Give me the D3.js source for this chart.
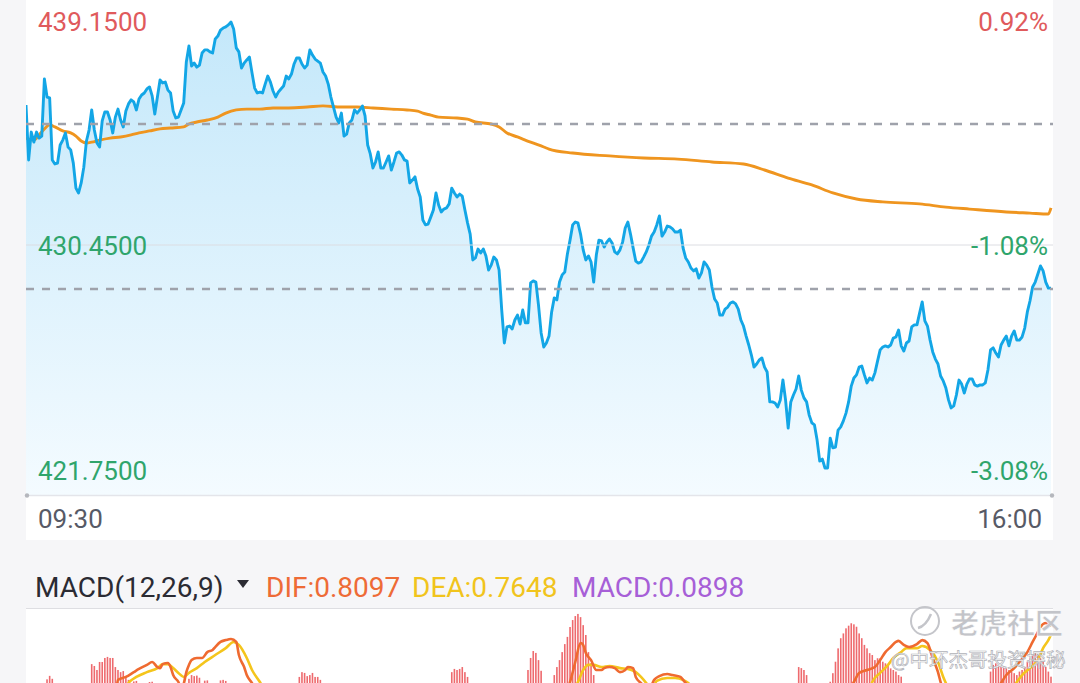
<!DOCTYPE html>
<html>
<head>
<meta charset="utf-8">
<script src="https://cdn.jsdelivr.net/npm/d3@7"></script>
<style>
  body { margin: 0; background: #f6f6f8; }
  svg { display: block; font-family: Roboto, "Noto Sans", sans-serif; }
</style>
</head>
<body>
<div id="chart"></div>
<script>
//Price per minute from 09:30 (index = minutes after open)
var priceValues = [
  435.32, 433.41, 434.38, 434.03, 434.38, 434.17, 434.24, 436.23, 435.60, 435.57,
  433.41, 433.27, 433.30, 433.93, 434.10, 434.35, 433.86, 433.76, 433.30, 432.43,
  432.26, 432.61, 433.16, 434.07, 434.45, 435.15, 434.45, 434.00, 433.86, 434.77,
  435.08, 435.08, 434.80, 434.35, 434.90, 435.18, 434.80, 434.56, 435.11, 435.36,
  435.50, 435.43, 435.15, 435.53, 435.67, 435.74, 435.88, 435.95, 435.64, 435.01,
  435.60, 436.19, 436.09, 436.12, 435.84, 435.74, 435.11, 434.87, 434.90, 435.15,
  435.39, 436.82, 437.38, 436.68, 436.78, 436.64, 436.71, 437.13, 437.24, 437.24,
  437.17, 437.13, 437.62, 437.72, 437.93, 438.00, 438.04, 438.11, 438.21, 437.97,
  437.31, 437.17, 436.61, 436.78, 436.89, 436.99, 436.44, 435.91, 435.74, 435.77,
  435.74, 436.05, 436.33, 436.12, 435.81, 435.60, 435.77, 435.88, 435.98, 436.33,
  436.23, 436.40, 436.75, 436.96, 436.96, 436.75, 436.61, 436.71, 437.24, 437.06,
  436.92, 436.85, 436.78, 436.47, 436.33, 436.05, 435.60, 435.25, 434.90, 434.70,
  435.04, 434.24, 434.31, 434.70, 434.80, 435.15, 435.04, 435.15, 435.29, 434.94,
  433.93, 433.62, 433.13, 433.34, 433.69, 433.13, 433.13, 433.34, 433.55, 433.06,
  433.34, 433.65, 433.69, 433.58, 433.41, 433.37, 432.61, 432.71, 432.82, 432.40,
  432.12, 431.32, 431.15, 431.18, 431.42, 431.67, 432.26, 431.84, 431.60, 431.70,
  431.74, 431.88, 432.43, 432.26, 432.12, 432.22, 432.15, 431.67, 431.22, 430.83,
  429.93, 430.00, 430.31, 430.17, 430.31, 430.07, 429.58, 429.75, 430.03, 429.93,
  429.58, 428.19, 427.04, 427.60, 427.63, 427.53, 427.84, 428.01, 427.70, 428.19,
  427.74, 427.74, 429.13, 429.20, 429.16, 428.36, 427.39, 426.90, 427.04, 427.28,
  428.12, 428.61, 428.54, 429.16, 429.41, 429.51, 430.14, 430.62, 431.15, 431.25,
  431.22, 430.83, 430.28, 429.93, 430.07, 429.86, 429.16, 430.10, 430.62, 430.59,
  430.38, 430.55, 430.66, 430.52, 430.21, 430.14, 430.28, 430.55, 431.04, 431.25,
  430.83, 430.35, 429.89, 429.82, 429.86, 430.03, 430.21, 430.45, 430.76, 430.90,
  431.15, 431.46, 430.76, 430.90, 431.11, 431.08, 431.01, 430.90, 430.90, 430.97,
  430.35, 430.00, 429.86, 429.65, 429.55, 429.62, 429.30, 429.48, 429.86, 429.75,
  429.58, 428.99, 428.57, 428.43, 428.01, 428.01, 428.22, 428.29, 428.43, 428.47,
  428.40, 428.22, 427.84, 427.63, 427.28, 426.97, 426.62, 426.20, 426.31, 426.45,
  426.52, 426.20, 426.03, 424.99, 424.99, 424.95, 424.81, 425.06, 425.75, 425.06,
  424.08, 424.99, 425.23, 425.44, 425.89, 425.40, 425.13, 424.99, 424.53, 424.26,
  424.19, 423.66, 422.93, 423.00, 422.69, 422.69, 423.73, 423.39, 423.42, 424.01,
  424.12, 424.33, 424.60, 424.99, 425.54, 425.82, 425.93, 426.20, 426.24, 425.93,
  425.65, 425.82, 425.75, 426.00, 426.41, 426.80, 426.90, 426.94, 426.90, 426.97,
  427.21, 427.25, 427.49, 426.94, 426.76, 427.04, 427.11, 427.60, 427.67, 427.67,
  428.08, 428.47, 427.81, 427.63, 427.14, 426.73, 426.48, 426.31, 425.89, 425.72,
  425.47, 425.06, 424.78, 424.85, 425.23, 425.75, 425.61, 425.30, 425.61, 425.79,
  425.79, 425.58, 425.54, 425.58, 425.58, 425.65, 426.10, 426.80, 426.87, 426.69,
  426.55, 426.97, 427.14, 427.28, 426.94, 427.28, 427.46, 427.14, 427.14, 427.25,
  427.56, 428.12, 428.50, 428.99, 429.16, 429.44, 429.72, 429.55, 429.16, 428.95,
  428.95
];

//Average price line (minute, price)
var avgMinutes = [0, 3, 5, 7, 9, 11, 14, 17, 19, 21, 23, 25, 28, 32, 36, 40, 43, 47, 51, 55,
  60, 62, 65, 69, 73, 76, 80, 84, 89, 94, 100, 107, 113, 120, 126, 132, 139, 145, 149, 151,
  154, 157, 164, 168, 171, 177, 180, 183, 187, 192, 197, 199, 208, 222, 235, 248, 261, 273, 281, 290,
  299, 307, 316, 326, 340, 350, 359, 373, 382, 389, 390];
var avgValues = [434.17, 434.10, 434.28, 434.49, 434.63, 434.56, 434.42, 434.35, 434.24, 434.07,
  434.00, 434.03, 434.10, 434.17, 434.21, 434.28, 434.35, 434.42, 434.49, 434.52,
  434.56, 434.66, 434.73, 434.80, 434.90, 435.04, 435.15, 435.18, 435.18, 435.22,
  435.22, 435.25, 435.29, 435.25, 435.25, 435.22, 435.18, 435.15, 435.11, 435.04,
  434.97, 434.90, 434.87, 434.83, 434.73, 434.66, 434.56, 434.35, 434.21, 434.03,
  433.86, 433.79, 433.65, 433.55, 433.48, 433.44, 433.34, 433.27, 433.06, 432.78,
  432.54, 432.26, 432.05, 431.95, 431.88, 431.77, 431.70, 431.60, 431.56, 431.53, 431.74];

//Dashed reference levels and axis labels
var refLevels = [434.66, 428.92];
var priceTicks = [439.15, 430.45, 421.75];
var priceTickLabels = ["439.1500", "430.4500", "421.7500"];
var pctTickLabels = ["0.92%", "-1.08%", "-3.08%"];
var timeTicks = [0, 390];
var timeTickLabels = ["09:30", "16:00"];

//MACD histogram bars (minute, value)
var macdBarMinutes = [8, 9, 10,
  25, 26, 27, 28, 29, 30, 31, 32, 33, 34, 35, 36, 37, 38, 39, 41, 42, 47, 48,
  62, 63, 64, 65, 66, 68, 69, 74, 75, 76,
  104, 105, 106, 107, 108, 109, 110, 111, 112,
  162, 163, 164, 165, 166, 167, 168,
  191, 192, 193, 194, 195, 196,
  201, 202, 203, 204, 205, 206, 207, 208, 209, 210, 211, 212, 213, 214, 215, 216,
  294, 295, 296, 297,
  306, 307, 308, 309, 310, 311, 312, 313, 314, 315, 316, 317, 318, 319,
  320, 321, 322, 323, 324, 325, 326, 327, 328, 329, 330, 331, 332, 333,
  367, 368, 369, 370, 371, 372, 373, 374, 375, 376, 377, 378,
  379, 380, 381, 382, 383, 384, 385, 386, 387, 388, 389, 390];
var macdBarValues = [0.598, 0.611, 0.600,
  0.655, 0.648, 0.633, 0.663, 0.663, 0.678, 0.682, 0.678, 0.678, 0.644, 0.633, 0.625, 0.629, 0.607, 0.596, 0.590, 0.592, 0.588, 0.589,
  0.600, 0.614, 0.610, 0.612, 0.604, 0.593, 0.594, 0.594, 0.596, 0.592,
  0.607, 0.625, 0.622, 0.610, 0.614, 0.622, 0.607, 0.607, 0.596,
  0.625, 0.637, 0.633, 0.637, 0.644, 0.625, 0.607,
  0.633, 0.678, 0.704, 0.697, 0.670, 0.630,
  0.614, 0.644, 0.670, 0.700, 0.730, 0.757, 0.794, 0.820, 0.835, 0.843, 0.831, 0.801, 0.764, 0.700, 0.659, 0.614,
  0.644, 0.640, 0.633, 0.614,
  0.589, 0.621, 0.664, 0.714, 0.752, 0.770, 0.789, 0.799, 0.808, 0.804, 0.795, 0.770, 0.752, 0.727,
  0.714, 0.696, 0.689, 0.670, 0.677, 0.677, 0.664, 0.658, 0.652, 0.639, 0.633, 0.627, 0.614, 0.608,
  0.627, 0.652, 0.658, 0.652, 0.645, 0.645, 0.639, 0.633, 0.627, 0.621, 0.614, 0.627,
  0.633, 0.645, 0.664, 0.677, 0.689, 0.696, 0.689, 0.677, 0.664, 0.645, 0.627, 0.608];

//DIF line (minute, value)
var difMinutes = [34, 35, 38, 41, 43, 46, 48, 50, 51, 52, 54, 55, 56, 58, 59, 60, 61, 62, 63, 65,
  67, 69, 71, 72, 74, 76, 78, 80, 81, 83, 84, 86, 90, 100, 150, 200, 205,
  207, 209, 211, 212, 213, 215, 217, 219, 220, 222, 224, 226, 228, 229, 231, 232, 234, 237,
  239, 241, 244, 246, 249, 250, 251, 255, 300, 312,
  315, 317, 320, 323, 325, 327, 329, 331, 332, 334, 336, 339, 341, 343, 345, 347, 348, 352, 365,
  371, 373, 376, 378, 381, 383, 385, 386, 388, 390];
var difValues = [0.521, 0.596, 0.607, 0.625, 0.637, 0.652, 0.663, 0.644, 0.640, 0.655, 0.659, 0.644, 0.614, 0.588, 0.566, 0.581, 0.625, 0.652, 0.670, 0.678,
  0.678, 0.700, 0.708, 0.719, 0.738, 0.745, 0.749, 0.738, 0.689, 0.644, 0.614, 0.584, 0.502, 0.446, 0.446, 0.502, 0.539,
  0.588, 0.663, 0.734, 0.727, 0.697, 0.670, 0.633, 0.633, 0.640, 0.644, 0.640, 0.625, 0.633, 0.644, 0.640, 0.607, 0.584, 0.558,
  0.596, 0.610, 0.618, 0.614, 0.607, 0.596, 0.584, 0.521, 0.483, 0.539,
  0.588, 0.622, 0.633, 0.644, 0.670, 0.700, 0.719, 0.738, 0.742, 0.727, 0.719, 0.730, 0.745, 0.734, 0.678, 0.625, 0.588, 0.521, 0.502,
  0.584, 0.614, 0.640, 0.663, 0.700, 0.738, 0.775, 0.794, 0.809, 0.798];

//DEA line (minute, value)
var deaMinutes = [36, 39, 42, 46, 50, 52, 54, 56, 58, 60, 62, 65, 68, 72, 76, 79, 81, 84, 86, 89,
  93, 150, 205, 210, 212, 214, 216, 219, 222, 226, 229, 232, 234, 236, 238,
  240, 244, 247, 250, 252, 256, 300, 320,
  322, 325, 328, 330, 333, 335, 339, 341, 344, 347, 349, 350, 354, 372,
  377, 379, 382, 385, 387, 389, 390];
var deaValues = [0.521, 0.584, 0.607, 0.625, 0.640, 0.655, 0.655, 0.640, 0.622, 0.607, 0.622, 0.640, 0.663, 0.689, 0.715, 0.738, 0.727, 0.678, 0.633, 0.588,
  0.521, 0.464, 0.521, 0.588, 0.633, 0.652, 0.652, 0.644, 0.648, 0.640, 0.637, 0.625, 0.607, 0.584, 0.558,
  0.592, 0.603, 0.603, 0.596, 0.584, 0.539, 0.483, 0.528,
  0.588, 0.622, 0.652, 0.678, 0.700, 0.715, 0.715, 0.723, 0.708, 0.663, 0.607, 0.584, 0.521, 0.521,
  0.588, 0.614, 0.640, 0.670, 0.715, 0.745, 0.7648];

var macdHeader = [
  {text: "MACD(12,26,9)", x: 35, color: "#2b2b33"},
  {text: "DIF:0.8097", x: 266, color: "#ee6b36"},
  {text: "DEA:0.7648", x: 412, color: "#f1c41c"},
  {text: "MACD:0.0898", x: 572, color: "#a75fd7"}
];

//Set sizes
var width = 1080;
var height = 683;
var panelLeft = 26, panelRight = 1053;
var plotBottom = 495;

var x = d3.scaleLinear().domain([0, 390]).range([26, 1051]);
var y = d3.scaleLinear().domain([421.75, 439.15]).range([plotBottom, -5]);
var yMacd = d3.scaleLinear().domain([0, 1]).range([839, 572]);

var svg = d3.select("#chart")
  .append("svg")
  .attr("width", width)
  .attr("height", height);

var defs = svg.append("defs");
var grad = defs.append("linearGradient")
  .attr("id", "areaFill")
  .attr("gradientUnits", "userSpaceOnUse")
  .attr("x1", 0).attr("y1", 0)
  .attr("x2", 0).attr("y2", plotBottom);
grad.append("stop").attr("offset", "0%").attr("stop-color", "#c2e7fa");
grad.append("stop").attr("offset", "100%").attr("stop-color", "#f4fbff");

defs.append("clipPath").attr("id", "priceClip")
  .append("rect")
  .attr("x", panelLeft).attr("y", 0)
  .attr("width", panelRight - panelLeft).attr("height", plotBottom);
defs.append("clipPath").attr("id", "macdClip")
  .append("rect")
  .attr("x", panelLeft).attr("y", 609)
  .attr("width", panelRight - panelLeft).attr("height", 80);

//Panels
svg.append("rect")
  .attr("x", panelLeft).attr("y", 0)
  .attr("width", panelRight - panelLeft).attr("height", 540)
  .attr("fill", "#ffffff");
svg.append("rect")
  .attr("x", panelLeft).attr("y", 609)
  .attr("width", panelRight - panelLeft).attr("height", 80)
  .attr("fill", "#ffffff");
svg.append("line")
  .attr("x1", panelLeft).attr("x2", panelRight)
  .attr("y1", 608.5).attr("y2", 608.5)
  .attr("stroke", "#dedee2").attr("stroke-width", 1);

var price = svg.append("g").attr("clip-path", "url(#priceClip)");

//Area under the price line
var area = d3.area()
  .x(function(d, i) { return x(i); })
  .y0(plotBottom)
  .y1(function(d) { return y(d); });
price.append("path")
  .datum(priceValues)
  .attr("d", area)
  .attr("fill", "url(#areaFill)");

//Middle grid line
svg.append("line")
  .attr("x1", panelLeft).attr("x2", panelRight)
  .attr("y1", y(priceTicks[1])).attr("y2", y(priceTicks[1]))
  .attr("stroke", "#dcdde2").attr("stroke-width", 1);

//Dashed reference lines
svg.selectAll(".ref")
  .data(refLevels)
  .enter()
  .append("line")
  .attr("class", "ref")
  .attr("x1", panelLeft).attr("x2", panelRight)
  .attr("y1", function(d) { return y(d); })
  .attr("y2", function(d) { return y(d); })
  .attr("stroke", "#9fa2ab")
  .attr("stroke-width", 2.5)
  .attr("stroke-dasharray", "8,8");

//Average line
var avgLine = d3.line()
  .x(function(d) { return x(d[0]); })
  .y(function(d) { return y(d[1]); })
  .curve(d3.curveMonotoneX);
price.append("path")
  .datum(d3.zip(avgMinutes, avgValues))
  .attr("d", avgLine)
  .attr("fill", "none")
  .attr("stroke", "#ef951f")
  .attr("stroke-width", 2.9);

//Price line
var priceLine = d3.line()
  .x(function(d, i) { return x(i); })
  .y(function(d) { return y(d); });
price.append("path")
  .datum(priceValues)
  .attr("d", priceLine)
  .attr("fill", "none")
  .attr("stroke", "#13a6e6")
  .attr("stroke-width", 2.9)
  .attr("stroke-linejoin", "round");

//Bottom axis line with end dots
svg.append("line")
  .attr("x1", panelLeft).attr("x2", panelRight)
  .attr("y1", plotBottom + 0.5).attr("y2", plotBottom + 0.5)
  .attr("stroke", "#e4e5ea").attr("stroke-width", 1.5);
svg.selectAll(".enddot")
  .data([panelLeft + 1, panelRight - 1])
  .enter()
  .append("circle")
  .attr("cx", function(d) { return d; })
  .attr("cy", plotBottom + 0.5)
  .attr("r", 2.2)
  .attr("fill", "#b5b7bd");

//Price labels (left) and percent labels (right)
var labelDy = [36, 10, -15];
var labelColor = ["#e05a5c", "#2fa56c", "#2fa56c"];
svg.selectAll(".priceLabel")
  .data(priceTicks)
  .enter()
  .append("text")
  .attr("class", "priceLabel")
  .attr("x", 38)
  .attr("y", function(d, i) { return y(d) + labelDy[i]; })
  .attr("fill", function(d, i) { return labelColor[i]; })
  .attr("font-size", 26)
  .text(function(d, i) { return priceTickLabels[i]; });
svg.selectAll(".pctLabel")
  .data(priceTicks)
  .enter()
  .append("text")
  .attr("class", "pctLabel")
  .attr("x", 1048)
  .attr("y", function(d, i) { return y(d) + labelDy[i]; })
  .attr("fill", function(d, i) { return labelColor[i]; })
  .attr("font-size", 26)
  .style("text-anchor", "end")
  .text(function(d, i) { return pctTickLabels[i]; });

//Time labels
svg.selectAll(".timeLabel")
  .data(timeTicks)
  .enter()
  .append("text")
  .attr("class", "timeLabel")
  .attr("x", function(d, i) { return i == 0 ? x(d) + 12 : x(d) - 9; })
  .attr("y", 528)
  .attr("fill", "#575a66")
  .attr("font-size", 26)
  .style("text-anchor", function(d, i) { return i == 0 ? "start" : "end"; })
  .text(function(d, i) { return timeTickLabels[i]; });

//MACD header
svg.selectAll(".macdHead")
  .data(macdHeader)
  .enter()
  .append("text")
  .attr("class", "macdHead")
  .attr("x", function(d) { return d.x; })
  .attr("y", 597)
  .attr("fill", function(d) { return d.color; })
  .attr("font-size", 28)
  .text(function(d) { return d.text; });
svg.append("path")
  .attr("d", "M237,580 L249,580 L243,588 Z")
  .attr("fill", "#2b2b33");

//MACD panel
var macd = svg.append("g").attr("clip-path", "url(#macdClip)");
macd.selectAll(".bar")
  .data(d3.zip(macdBarMinutes, macdBarValues))
  .enter()
  .append("rect")
  .attr("class", "bar")
  .attr("x", function(d) { return x(d[0]) - 0.8; })
  .attr("width", 1.6)
  .attr("y", function(d) { return yMacd(d[1]); })
  .attr("height", function(d) { return yMacd(0) - yMacd(d[1]); })
  .attr("fill", "#ee6a6e");

var macdLine = d3.line()
  .x(function(d) { return x(d[0]); })
  .y(function(d) { return yMacd(d[1]); })
  .curve(d3.curveMonotoneX);
macd.append("path")
  .datum(d3.zip(deaMinutes, deaValues))
  .attr("d", macdLine)
  .attr("fill", "none")
  .attr("stroke", "#f4c51c")
  .attr("stroke-width", 2.6);
macd.append("path")
  .datum(d3.zip(difMinutes, difValues))
  .attr("d", macdLine)
  .attr("fill", "none")
  .attr("stroke", "#ef6a30")
  .attr("stroke-width", 2.6);

//Watermark
var wm = svg.append("g");
wm.append("circle")
  .attr("cx", 925).attr("cy", 621).attr("r", 14)
  .attr("fill", "none")
  .attr("stroke", "#c4c5ca")
  .attr("stroke-width", 2);
wm.append("path")
  .attr("d", "M918,628 Q926,626 931,614")
  .attr("fill", "none")
  .attr("stroke", "#c4c5ca")
  .attr("stroke-width", 2.5);
wm.append("text")
  .attr("x", 951).attr("y", 634)
  .attr("font-family", "'Noto Sans CJK SC'")
  .attr("font-size", 28)
  .attr("font-weight", "bold")
  .attr("fill", "#c3c4c9")
  .attr("stroke", "#ffffff")
  .attr("stroke-width", 0.6)
  .text("老虎社区");
wm.append("text")
  .attr("x", 891).attr("y", 667)
  .attr("font-family", "'Noto Sans CJK SC'")
  .attr("font-size", 19.5)
  .attr("fill", "#ffffff")
  .attr("fill-opacity", 0.9)
  .attr("stroke", "#b0b1b7")
  .attr("stroke-width", 0.7)
  .text("@中环杰哥投资探秘");
</script>
</body>
</html>
